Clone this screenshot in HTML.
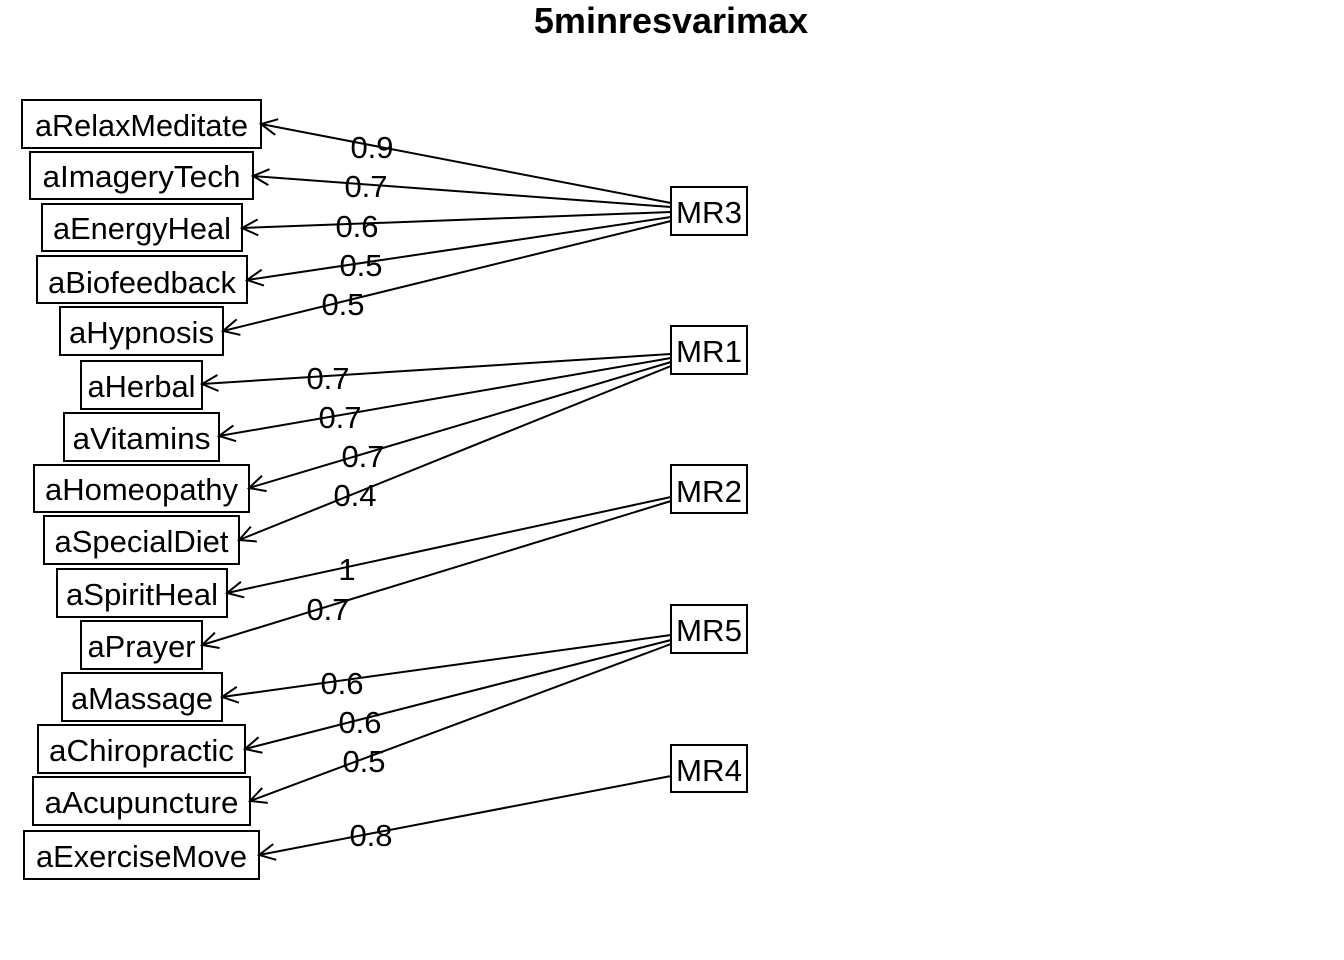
<!DOCTYPE html>
<html><head><meta charset="utf-8"><style>
html,body{margin:0;padding:0;background:#fff}
svg{display:block}
text{font-family:"Liberation Sans",Arial,sans-serif;fill:#000}
</style></head><body>
<svg width="1344" height="960" viewBox="0 0 1344 960" xmlns="http://www.w3.org/2000/svg">
<defs>
<marker id="a" markerWidth="20" markerHeight="20" refX="17" refY="10" orient="auto" markerUnits="userSpaceOnUse">
<path d="M1,2 L17,10 L1,18" fill="none" stroke="#000" stroke-width="2"/>
</marker>
</defs>
<text x="671" y="33" font-size="36" font-weight="bold" text-anchor="middle">5minresvarimax</text>
<g stroke="#000" stroke-width="2" fill="none">
<line x1="671" y1="203" x2="261" y2="124" marker-end="url(#a)"/>
<line x1="671" y1="207" x2="253" y2="176" marker-end="url(#a)"/>
<line x1="671" y1="212" x2="242" y2="228" marker-end="url(#a)"/>
<line x1="671" y1="217" x2="247" y2="280" marker-end="url(#a)"/>
<line x1="671" y1="221" x2="223" y2="331" marker-end="url(#a)"/>
<line x1="671" y1="354" x2="202" y2="384" marker-end="url(#a)"/>
<line x1="671" y1="358" x2="219" y2="436" marker-end="url(#a)"/>
<line x1="671" y1="362" x2="249" y2="488" marker-end="url(#a)"/>
<line x1="671" y1="366" x2="239" y2="540" marker-end="url(#a)"/>
<line x1="671" y1="497" x2="227" y2="593" marker-end="url(#a)"/>
<line x1="671" y1="501" x2="202" y2="645" marker-end="url(#a)"/>
<line x1="671" y1="635" x2="222" y2="697" marker-end="url(#a)"/>
<line x1="671" y1="640" x2="245" y2="749" marker-end="url(#a)"/>
<line x1="671" y1="644" x2="250" y2="801" marker-end="url(#a)"/>
<line x1="671" y1="776" x2="259" y2="855" marker-end="url(#a)"/>
<rect x="22" y="100" width="239" height="48"/>
<rect x="30" y="152" width="223" height="47"/>
<rect x="42" y="204" width="200" height="47"/>
<rect x="37" y="256" width="210" height="47"/>
<rect x="60" y="307" width="163" height="48"/>
<rect x="81" y="361" width="121" height="48"/>
<rect x="64" y="413" width="155" height="48"/>
<rect x="34" y="465" width="215" height="47"/>
<rect x="44" y="516" width="195" height="48"/>
<rect x="57" y="569" width="170" height="48"/>
<rect x="81" y="621" width="121" height="48"/>
<rect x="62" y="673" width="160" height="48"/>
<rect x="38" y="725" width="207" height="48"/>
<rect x="33" y="777" width="217" height="48"/>
<rect x="24" y="831" width="235" height="48"/>
<rect x="671" y="187" width="76" height="48"/>
<rect x="671" y="326" width="76" height="48"/>
<rect x="671" y="465" width="76" height="48"/>
<rect x="671" y="605" width="76" height="48"/>
<rect x="671" y="745" width="76" height="47"/>
</g>
<g font-size="31" text-anchor="middle">
<text x="141.5" y="136" textLength="213" lengthAdjust="spacingAndGlyphs">aRelaxMeditate</text>
<text x="141.5" y="187" textLength="198" lengthAdjust="spacingAndGlyphs">aImageryTech</text>
<text x="142" y="239" textLength="178" lengthAdjust="spacingAndGlyphs">aEnergyHeal</text>
<text x="142" y="293" textLength="188" lengthAdjust="spacingAndGlyphs">aBiofeedback</text>
<text x="141.5" y="343" textLength="145" lengthAdjust="spacingAndGlyphs">aHypnosis</text>
<text x="141.5" y="397" textLength="108" lengthAdjust="spacingAndGlyphs">aHerbal</text>
<text x="141.5" y="449" textLength="138" lengthAdjust="spacingAndGlyphs">aVitamins</text>
<text x="141.5" y="500" textLength="193" lengthAdjust="spacingAndGlyphs">aHomeopathy</text>
<text x="141.5" y="552" textLength="174" lengthAdjust="spacingAndGlyphs">aSpecialDiet</text>
<text x="142" y="605" textLength="152" lengthAdjust="spacingAndGlyphs">aSpiritHeal</text>
<text x="141.5" y="657" textLength="108" lengthAdjust="spacingAndGlyphs">aPrayer</text>
<text x="142" y="709" textLength="142" lengthAdjust="spacingAndGlyphs">aMassage</text>
<text x="141.5" y="761" textLength="185" lengthAdjust="spacingAndGlyphs">aChiropractic</text>
<text x="141.5" y="813" textLength="194" lengthAdjust="spacingAndGlyphs">aAcupuncture</text>
<text x="141.5" y="867" textLength="211" lengthAdjust="spacingAndGlyphs">aExerciseMove</text>
<text x="709" y="223" textLength="66" lengthAdjust="spacingAndGlyphs">MR3</text>
<text x="709" y="362" textLength="66" lengthAdjust="spacingAndGlyphs">MR1</text>
<text x="709" y="502" textLength="66" lengthAdjust="spacingAndGlyphs">MR2</text>
<text x="709" y="641" textLength="66" lengthAdjust="spacingAndGlyphs">MR5</text>
<text x="709" y="781" textLength="66" lengthAdjust="spacingAndGlyphs">MR4</text>
<text x="372" y="158">0.9</text>
<text x="366" y="197">0.7</text>
<text x="357" y="237">0.6</text>
<text x="361" y="276">0.5</text>
<text x="343" y="315">0.5</text>
<text x="328" y="389">0.7</text>
<text x="340" y="428">0.7</text>
<text x="363" y="467">0.7</text>
<text x="355" y="506">0.4</text>
<text x="347" y="580">1</text>
<text x="328" y="620">0.7</text>
<text x="342" y="694">0.6</text>
<text x="360" y="733">0.6</text>
<text x="364" y="772">0.5</text>
<text x="371" y="846">0.8</text>
</g>
</svg>
</body></html>
